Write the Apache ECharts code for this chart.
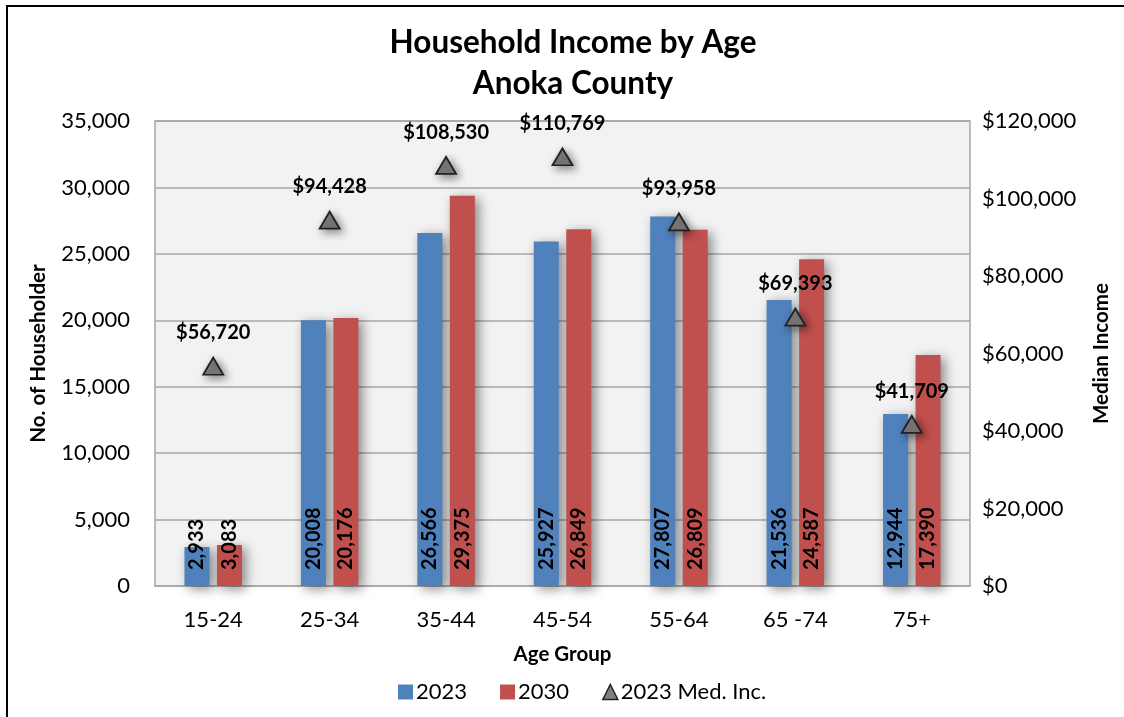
<!DOCTYPE html>
<html>
<head>
<meta charset="utf-8">
<script src="https://cdn.jsdelivr.net/npm/echarts@6/dist/echarts.min.js"></script>
<style>
  html, body { margin: 0; padding: 0; background: #fff; }
  #chart { width: 1124px; height: 717px; }
</style>
</head>
<body>
<div id="chart"></div>
<script>
// Age groups on the category axis
const ageGroups = ['15-24', '25-34', '35-44', '45-54', '55-64', '65 -74', '75+'];
// Number of householders by year
const households2023 = [2933, 20008, 26566, 25927, 27807, 21536, 12944];
const households2030 = [3083, 20176, 29375, 26849, 26809, 24587, 17390];
// 2023 median household income
const medianIncome2023 = [56720, 94428, 108530, 110769, 93958, 69393, 41709];

const FONT = 'Lato, "Open Sans", sans-serif';
const fmt = v => v.toLocaleString('en-US');

const barShadow = {
  shadowColor: 'rgba(0,0,0,0.45)',
  shadowBlur: 12,
  shadowOffsetX: 4,
  shadowOffsetY: 3
};

const barLabel = {
  show: true,
  position: 'insideBottom',
  rotate: 90,
  align: 'left',
  verticalAlign: 'middle',
  distance: 16,
  color: '#000',
  fontFamily: FONT,
  fontWeight: 'bold',
  fontSize: 20,
  formatter: p => fmt(p.value)
};

const chart = echarts.init(document.getElementById('chart'), null, { renderer: 'canvas' });

chart.setOption({
  backgroundColor: '#ffffff',
  animation: false,
  graphic: [{
    type: 'rect',
    shape: { x: 7, y: 6, width: 1300, height: 900 },
    style: { fill: 'none', stroke: '#000', lineWidth: 2 },
    silent: true,
    z: 100
  }],
  title: {
    text: 'Household Income by Age\nAnoka County',
    left: 568,
    textAlign: 'center',
    top: 17,
    textStyle: {
      fontFamily: FONT,
      fontWeight: 'bold',
      fontSize: 31.5,
      lineHeight: 41,
      color: '#000'
    }
  },
  legend: {
    bottom: 9,
    left: 393,
    itemGap: 33,
    itemWidth: 15,
    itemHeight: 15,
    textStyle: { fontFamily: FONT, fontSize: 22, color: '#000', padding: [0, 0, 0, -2] },
    data: [
      { name: '2023', icon: 'rect' },
      { name: '2030', icon: 'rect' },
      { name: '2023 Med. Inc.', icon: 'triangle', itemStyle: { color: '#808080', borderColor: '#222', borderWidth: 1.5 } }
    ]
  },
  grid: {
    left: 155,
    right: 154,
    top: 121,
    bottom: 131,
    show: true,
    backgroundColor: '#f2f2f2',
    borderColor: '#a6a6a6',
    borderWidth: 1.5
  },
  xAxis: {
    type: 'category',
    data: ageGroups,
    name: 'Age Group',
    nameLocation: 'middle',
    nameGap: 58,
    nameTextStyle: { fontFamily: FONT, fontWeight: 'bold', fontSize: 20.5, color: '#000' },
    axisLine: { show: false },
    axisTick: { show: false },
    axisLabel: { fontFamily: FONT, fontSize: 22, color: '#000', margin: 23 }
  },
  yAxis: [{
    type: 'value',
    min: 0,
    max: 35000,
    interval: 5000,
    name: 'No. of Householder',
    nameLocation: 'middle',
    nameGap: 106,
    nameTextStyle: { fontFamily: FONT, fontWeight: 'bold', fontSize: 20.5, color: '#000' },
    axisLine: { show: false },
    axisTick: { show: false },
    axisLabel: { fontFamily: FONT, fontSize: 22, color: '#000', margin: 25, formatter: v => fmt(v) },
    splitLine: { lineStyle: { color: '#a6a6a6', width: 1.5 } }
  }, {
    type: 'value',
    min: 0,
    max: 120000,
    interval: 20000,
    position: 'right',
    name: 'Median Income',
    nameLocation: 'middle',
    nameGap: 121,
    nameRotate: 90,
    nameTextStyle: { fontFamily: FONT, fontWeight: 'bold', fontSize: 20.5, color: '#000' },
    axisLine: { show: false },
    axisTick: { show: false },
    axisLabel: { fontFamily: FONT, fontSize: 22, color: '#000', margin: 12, formatter: v => '$' + fmt(v) },
    splitLine: { show: false }
  }],
  series: [{
    name: '2023',
    type: 'bar',
    data: households2023,
    barWidth: 25,
    barGap: '30%',
    itemStyle: Object.assign({ color: '#4f81bd' }, barShadow),
    label: barLabel
  }, {
    name: '2030',
    type: 'bar',
    data: households2030,
    barWidth: 25,
    itemStyle: Object.assign({ color: '#c0504d' }, barShadow),
    label: barLabel
  }, {
    name: '2023 Med. Inc.',
    type: 'line',
    yAxisIndex: 1,
    data: medianIncome2023,
    lineStyle: { width: 0, opacity: 0 },
    symbol: 'triangle',
    symbolSize: [20, 17],
    itemStyle: {
      color: '#808080',
      borderColor: '#222',
      borderWidth: 1.8,
      shadowColor: 'rgba(0,0,0,0.45)',
      shadowBlur: 9,
      shadowOffsetX: 3,
      shadowOffsetY: 3
    },
    label: {
      show: true,
      position: 'top',
      distance: 14,
      color: '#000',
      fontFamily: FONT,
      fontWeight: 'bold',
      fontSize: 20,
      formatter: p => '$' + fmt(p.value)
    },
    z: 5
  }]
});
</script>
</body>
</html>
